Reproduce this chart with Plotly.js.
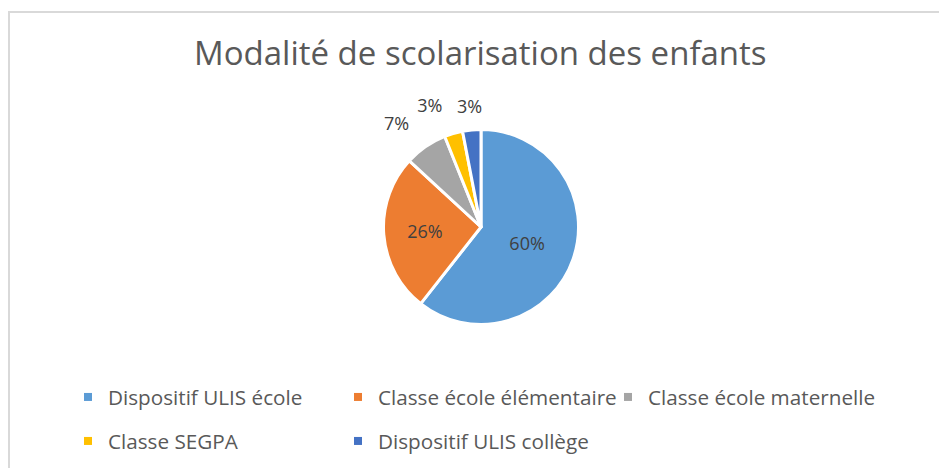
<!DOCTYPE html>
<html>
<head>
<meta charset="utf-8">
<script src="https://cdn.plot.ly/plotly-3.0.1.min.js"></script>
<style>
  html, body { margin: 0; padding: 0; background: #ffffff; }
  #frame { position: absolute; left: 8px; top: 11px; width: 940px; height: 470px;
           border-left: 2px solid #d9d9d9; border-top: 2px solid #d9d9d9; }
  #chart { position: absolute; left: 0; top: 0; width: 939px; height: 468px; }
</style>
</head>
<body>
<div id="frame"></div>
<div id="chart"></div>
<script>
const categories = ["Dispositif ULIS école", "Classe école élémentaire", "Classe école maternelle", "Classe SEGPA", "Dispositif ULIS collège"];
const values = [60, 26, 7, 3, 3];
const colors = ["#5b9bd5", "#ed7d31", "#a5a5a5", "#ffc000", "#4472c4"];
const legendRow = ["legend", "legend", "legend", "legend2", "legend2"];
const chartTitle = "Modalité de scolarisation des enfants";

const FONT = "Open Sans, sans-serif";
const labelFont = { family: FONT, size: 18, color: "#404040" };

// plot-area geometry (styling)
const M = { l: 23, r: 0, t: 111, b: 125 };
const W = 939, H = 468;
const plotW = W - M.l - M.r, plotH = H - M.t - M.b;

// main pie: coloured slices, inside labels for the two big slices
const mainPie = {
  type: "pie",
  labels: categories,
  values: values,
  sort: false,
  direction: "clockwise",
  rotation: 0,
  domain: { x: [0, 1], y: [0.0797, 0.9203] },
  marker: { colors: colors, line: { color: "#ffffff", width: 3 } },
  texttemplate: "%{value}%",
  textposition: values.map((v, i) => i < 2 ? "inside" : "none"),
  insidetextorientation: "horizontal",
  textfont: labelFont,
  showlegend: false,
  hoverinfo: "label+value"
};

// transparent overlays so each outside label is placed on its own (no stacking / leader lines)
const overlayIdx = [2, 3];
const overlays = overlayIdx.map(k => ({
  type: "pie",
  labels: categories,
  values: values,
  sort: false,
  direction: "clockwise",
  rotation: 0,
  domain: { x: [0, 1], y: [0, 1] },
  marker: { colors: categories.map(() => "rgba(0,0,0,0)"), line: { width: 0 } },
  texttemplate: "%{value}%",
  textposition: values.map((w, i) => i === k ? "outside" : "none"),
  outsidetextfont: labelFont,
  textfont: labelFont,
  showlegend: false,
  hoverinfo: "skip"
}));

// last small slice: label centred on its mid-angle, computed from the data
const total = values.reduce((a, b) => a + b, 0);
function midAngle(i) {
  const before = values.slice(0, i).reduce((a, b) => a + b, 0);
  return (before + values[i] / 2) / total * 2 * Math.PI;
}
const annIdx = 4, annDist = 122;
const annotations = [{
  xref: "paper", yref: "paper",
  x: 0.5 + annDist * Math.sin(midAngle(annIdx)) / plotW,
  y: 0.5 + annDist * Math.cos(midAngle(annIdx)) / plotH,
  xanchor: "center", yanchor: "middle",
  text: values[annIdx] + "%",
  showarrow: false,
  font: labelFont
}];

// legend entries
const legendTraces = categories.map((c, i) => ({
  type: "scatter",
  mode: "markers",
  x: [null], y: [null],
  name: c,
  legend: legendRow[i],
  marker: { symbol: "square", size: 8, color: colors[i] },
  hoverinfo: "skip"
}));

const legendCommon = {
  orientation: "h",
  xref: "container", xanchor: "left", x: 0.0724,
  yref: "container", yanchor: "middle",
  entrywidth: 225, entrywidthmode: "pixels",
  font: { family: FONT, size: 20.7, color: "#595959" },
  traceorder: "normal",
  bgcolor: "rgba(0,0,0,0)"
};

const layout = {
  width: W, height: H,
  margin: M,
  paper_bgcolor: "rgba(0,0,0,0)",
  plot_bgcolor: "rgba(0,0,0,0)",
  font: { family: FONT, color: "#595959" },
  title: {
    text: chartTitle,
    font: { family: FONT, size: 33, color: "#595959" },
    x: 0.5115, xref: "container", xanchor: "center",
    y: 0.885, yref: "container", yanchor: "middle"
  },
  xaxis: { visible: false },
  yaxis: { visible: false },
  annotations: annotations,
  showlegend: true,
  legend: Object.assign({}, legendCommon, { y: 1 - 397 / 468 }),
  legend2: Object.assign({}, legendCommon, { y: 1 - 441 / 468 })
};

Plotly.newPlot("chart", [mainPie].concat(overlays, legendTraces), layout, { displayModeBar: false, staticPlot: true });
</script>
</body>
</html>
